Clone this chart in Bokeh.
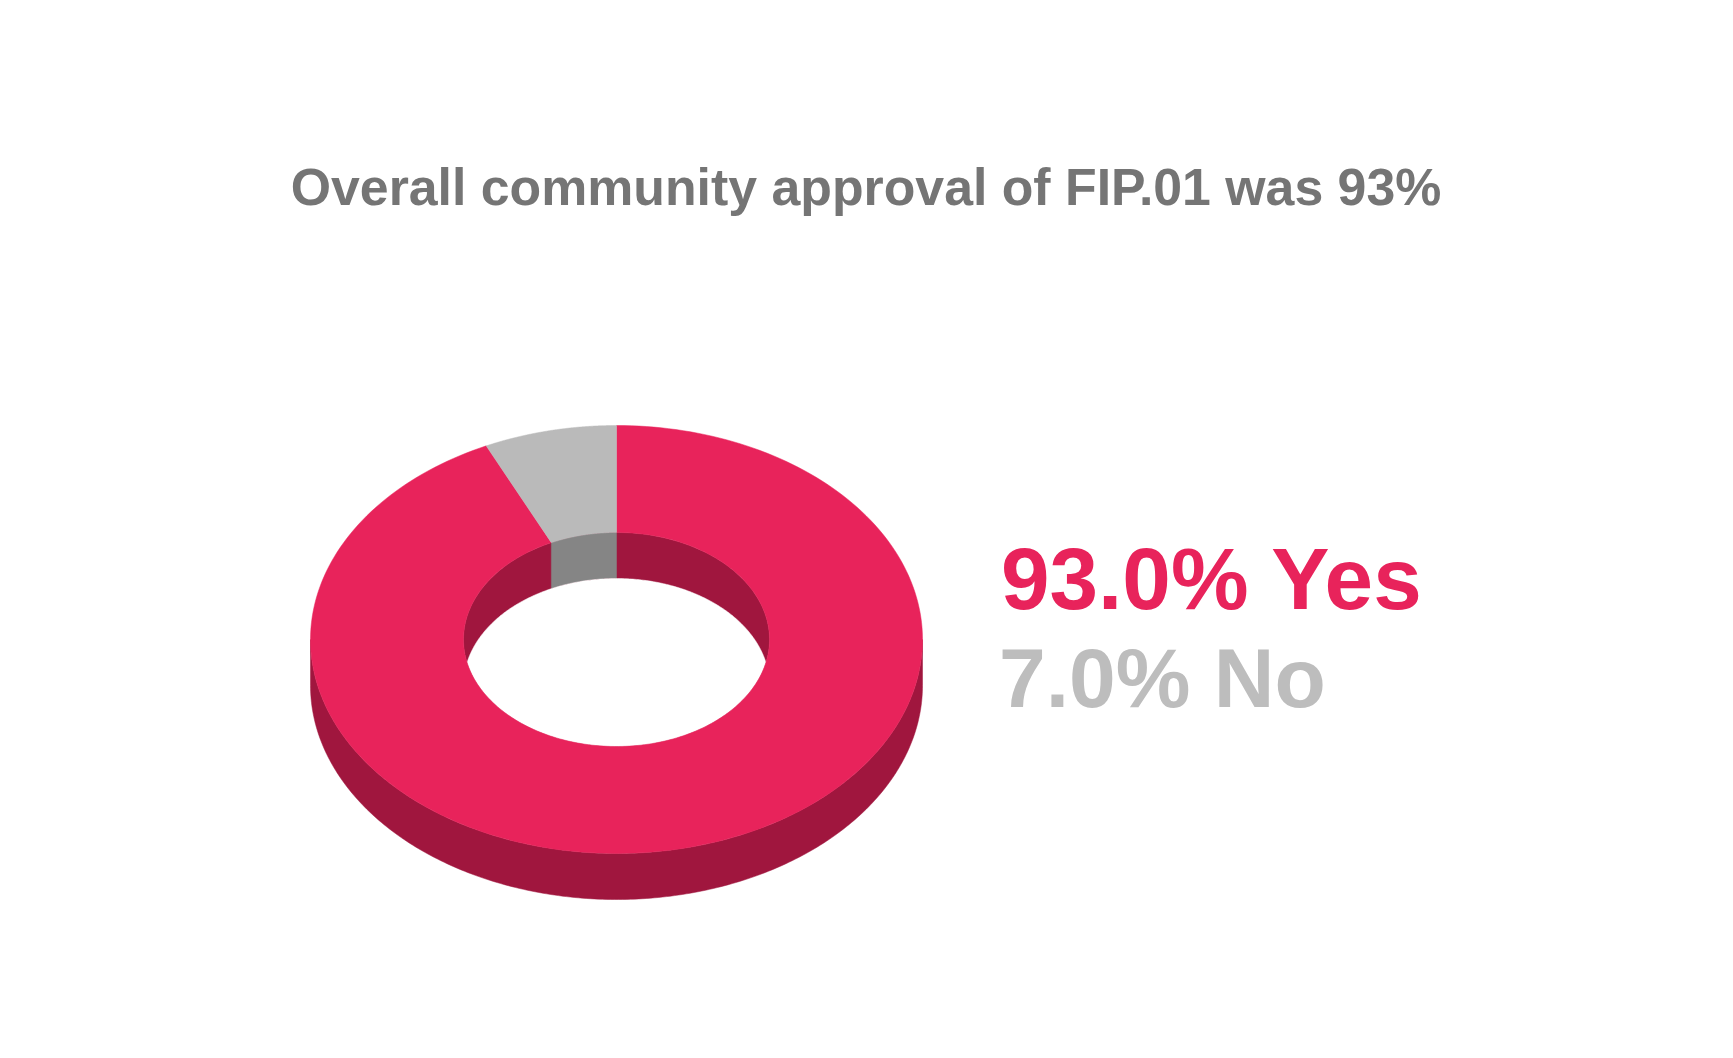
import numpy as np
from bokeh.plotting import figure
from bokeh.core.properties import value
from bokeh.embed import file_html
from bokeh.resources import INLINE

# data
categories = ["Yes", "No"]
shares = [93.0, 7.0]
labels = ["93.0% Yes", "7.0% No"]
title_text = "Overall community approval of FIP.01 was 93%"

# style
PINK, PINK_DARK = "#e8235b", "#a0163e"
GREY, GREY_DARK = "#bababa", "#858585"
TOP = {"Yes": PINK, "No": GREY}
TEXT = {"Yes": PINK, "No": "#bdbdbd"}

W, H = 1717, 1042
CX, CY = 616.0, 639.0       # page pixels less the 8px margin
RX, RY = 306.0, 214.0
HX, HY = 153.0, 107.0
DEPTH = 46.0

p = figure(width=W, height=H, x_range=(0, W), y_range=(H, 0), toolbar_location=None,
           output_backend="svg", min_border=0, x_axis_type=None, y_axis_type=None)
p.grid.visible = False
p.outline_line_color = None
p.background_fill_color = "#ffffff"
p.border_fill_color = "#ffffff"


def arc(rx, ry, a0, a1, cy=CY, n=240):
    """Angles are fractions of a turn, anticlockwise from 12 o'clock."""
    t = np.linspace(a0, a1, n) * 2 * np.pi
    return CX - rx * np.sin(t), cy - ry * np.cos(t)


# extruded outer wall
ax0, ay0 = arc(RX, RY, 0.25, 0.75)
ax1, ay1 = arc(RX, RY, 0.75, 0.25, cy=CY + DEPTH)
p.patch(np.r_[ax0, ax1], np.r_[ay0, ay1], fill_color=PINK_DARK, line_color=PINK_DARK, line_width=0.5)

# slices: the "No" slice runs anticlockwise from 12 o'clock
fractions = np.array(shares) / sum(shares)
starts = {"No": 0.0, "Yes": fractions[1]}
sizes = {"Yes": fractions[0], "No": fractions[1]}

# inner wall seen through the hole: dark red everywhere, dark grey behind the "No" slice
wx, wy = arc(HX, HY, 0, 1)
p.patch(wx, wy, fill_color=PINK_DARK, line_color=PINK_DARK, line_width=0.5)
a0, a1 = starts["No"], starts["No"] + sizes["No"]
tx, ty = arc(HX, HY, a0, a1)
bx, by = arc(HX, HY, a1, a0, cy=CY + DEPTH)
p.patch(np.r_[tx, bx], np.r_[ty, by], fill_color=GREY_DARK, line_color=GREY_DARK, line_width=0.5)

# see-through lens: the overlap of the hole's top and bottom rims
half = np.arccos((DEPTH / 2) / HY) / (2 * np.pi)
ux, uy = arc(HX, HY, -half, half, cy=CY + DEPTH)      # upper edge, from the bottom rim
lx, ly = arc(HX, HY, 0.5 - half, 0.5 + half, cy=CY)   # lower edge, from the top rim
p.patch(np.r_[ux, lx], np.r_[uy, ly], fill_color="#ffffff", line_color="#ffffff", line_width=0.5)

# top face of the ring
for i in [0, 1]:
    c = categories[i]
    a0, a1 = starts[c], starts[c] + sizes[c]
    ox, oy = arc(RX, RY, a0, a1)
    ix, iy = arc(HX, HY, a1, a0)
    p.patch(np.r_[ox, ix], np.r_[oy, iy], fill_color=TOP[c], line_color=TOP[c], line_width=0.5)

# texts
p.text([865.5], [186], text=[title_text], text_font=value("Liberation Sans"), text_font_style="bold",
       text_font_size="51.8px", text_color="#757575", text_align="center", text_baseline="alphabetic")
p.text([1000.5], [578], text=[labels[0]], text_font=value("Liberation Sans"), text_font_style="bold",
       text_font_size="87.3px", text_color=TEXT["Yes"], text_align="left", text_baseline="alphabetic")
p.text([998.5], [677], text=[labels[1]], text_font=value("Liberation Sans"), text_font_style="bold",
       text_font_size="84px", text_color=TEXT["No"], text_align="left", text_baseline="alphabetic")

open("out.html", "w").write(file_html(p, INLINE))
